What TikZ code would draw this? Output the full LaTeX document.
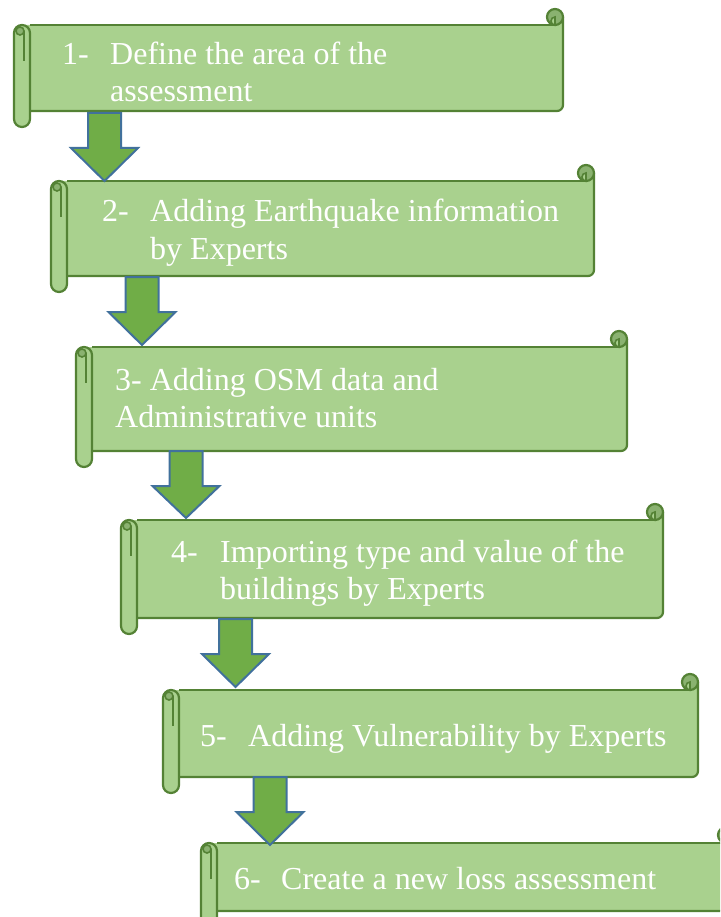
\documentclass[tikz,border=0pt]{standalone}
\usepackage{fontspec}
\setmainfont{Liberation Serif}
\definecolor{paper}{HTML}{A9D18E}
\definecolor{paperedge}{HTML}{548235}
\definecolor{paperfold}{HTML}{8AB270}
\definecolor{arrowfill}{HTML}{70AD47}
\definecolor{arrowedge}{HTML}{41719C}
\tikzset{
  scrolledge/.style={draw=paperedge, line width=2.2pt},
  curledge/.style={draw=paperedge, line width=1.6pt},
  downarrow/.style={fill=arrowfill, draw=arrowedge, line width=2pt, line join=miter},
  txt/.style={text=white, font=\fontsize{32}{37}\selectfont, inner sep=0pt, anchor=base west},
}
% horizontal scroll: #1 name, #2 left, #3 top (of the curl), #4 right, #5 bottom (of the roll)
\newcommand\scrollbox[5]{%
  \pgfmathsetmacro\scL{#2}\pgfmathsetmacro\scT{#3}%
  \pgfmathsetmacro\scR{#4}\pgfmathsetmacro\scB{#5}%
  \pgfmathsetmacro\scTop{#3+16}\pgfmathsetmacro\scBot{#5-16}%
  % sheet
  \fill[paper] (\scL+8,\scTop) -- (\scR-8,\scTop) -- (\scR-8,\scT+8) -- (\scR,\scT+8)
     -- (\scR,\scBot-6) arc[start angle=0,end angle=90,radius=6] -- (\scL+8,\scBot) -- cycle;
  \draw[scrolledge] (\scL+16,\scTop) -- (\scR-8,\scTop);
  \draw[scrolledge] (\scR,\scT+8) -- (\scR,\scBot-6) arc[start angle=0,end angle=90,radius=6]
     -- (\scL+16,\scBot);
  % curl at the top right
  \filldraw[fill=paperfold, scrolledge] (\scR-8,\scT+8) circle[radius=8];
  \filldraw[fill=paper, curledge] (\scR-8,\scT+8) arc[start angle=270,end angle=90,radius=4] -- cycle;
  % roll at the left
  \filldraw[fill=paper, scrolledge, rounded corners=8pt] (\scL,\scTop) rectangle (\scL+16,\scB);
  \filldraw[fill=paperfold, curledge] (\scL+6,\scTop+6) circle[radius=4];
  \draw[curledge] (\scL+10,\scTop+6) -- (\scL+10,\scTop+36);
  \coordinate (#1-nw) at (\scL+16,\scTop);
  \coordinate (#1-se) at (\scR,\scBot);
}
% block arrow pointing down: #1 start coordinate (top centre), #2 tip coordinate
\newcommand\blockarrow[2]{%
  \filldraw[downarrow] ($(#1)+(-16.5,0)$) -- ($(#1)+(16.5,0)$) -- ($(#1)+(16.5,35)$)
    -- ($(#1)+(33.5,35)$) -- (#2) -- ($(#1)+(-33.5,35)$) -- ($(#1)+(-16.5,35)$) -- cycle;
}
\usetikzlibrary{calc}
\begin{document}
\begin{tikzpicture}[x=1pt,y=-1pt]
\useasboundingbox (0,0) rectangle (720,917);
\fill[white] (0,0) rectangle (720,917);
\clip (0,0) rectangle (720,917);

% the six steps
\scrollbox{s1}{14}{9}{563}{127}
\scrollbox{s2}{51}{165}{594}{292}
\scrollbox{s3}{76}{331}{627}{467}
\scrollbox{s4}{121}{504}{663}{634}
\scrollbox{s5}{163}{674}{698}{793}
\scrollbox{s6}{201}{827}{734}{927}

% arrows between the steps
\coordinate (a1top) at (104.5,113); \coordinate (a1tip) at (104.5,181);
\coordinate (a2top) at (142,277);   \coordinate (a2tip) at (142,345);
\coordinate (a3top) at (186,451);   \coordinate (a3tip) at (186,518);
\coordinate (a4top) at (235.5,619); \coordinate (a4tip) at (235.5,687);
\coordinate (a5top) at (270,777);   \coordinate (a5tip) at (270,845);
\blockarrow{a1top}{a1tip}
\blockarrow{a2top}{a2tip}
\blockarrow{a3top}{a3tip}
\blockarrow{a4top}{a4tip}
\blockarrow{a5top}{a5tip}

% labels
\node[txt] (n1) at (62,65) {1-};
\node[txt] (t1a) at (110,65) {Define the area of the};
\node[txt] (t1b) at (110,102) {assessment};
\node[txt] (n2) at (102,222) {2-};
\node[txt] (t2a) at (150,222) {Adding Earthquake information};
\node[txt] (t2b) at (150,259) {by Experts};
\node[txt] (t3a) at (115,390) {3- Adding OSM data and};
\node[txt] (t3b) at (115,427) {Administrative units};
\node[txt] (n4) at (171,562) {4-};
\node[txt] (t4a) at (220,562) {Importing type and value of the};
\node[txt] (t4b) at (220,599) {buildings by Experts};
\node[txt] (n5) at (200,746) {5-};
\node[txt] (t5a) at (248,746) {Adding Vulnerability by Experts};
\node[txt] (n6) at (234,889) {6-};
\node[txt] (t6a) at (281,889) {Create a new loss assessment};
\end{tikzpicture}
\end{document}
